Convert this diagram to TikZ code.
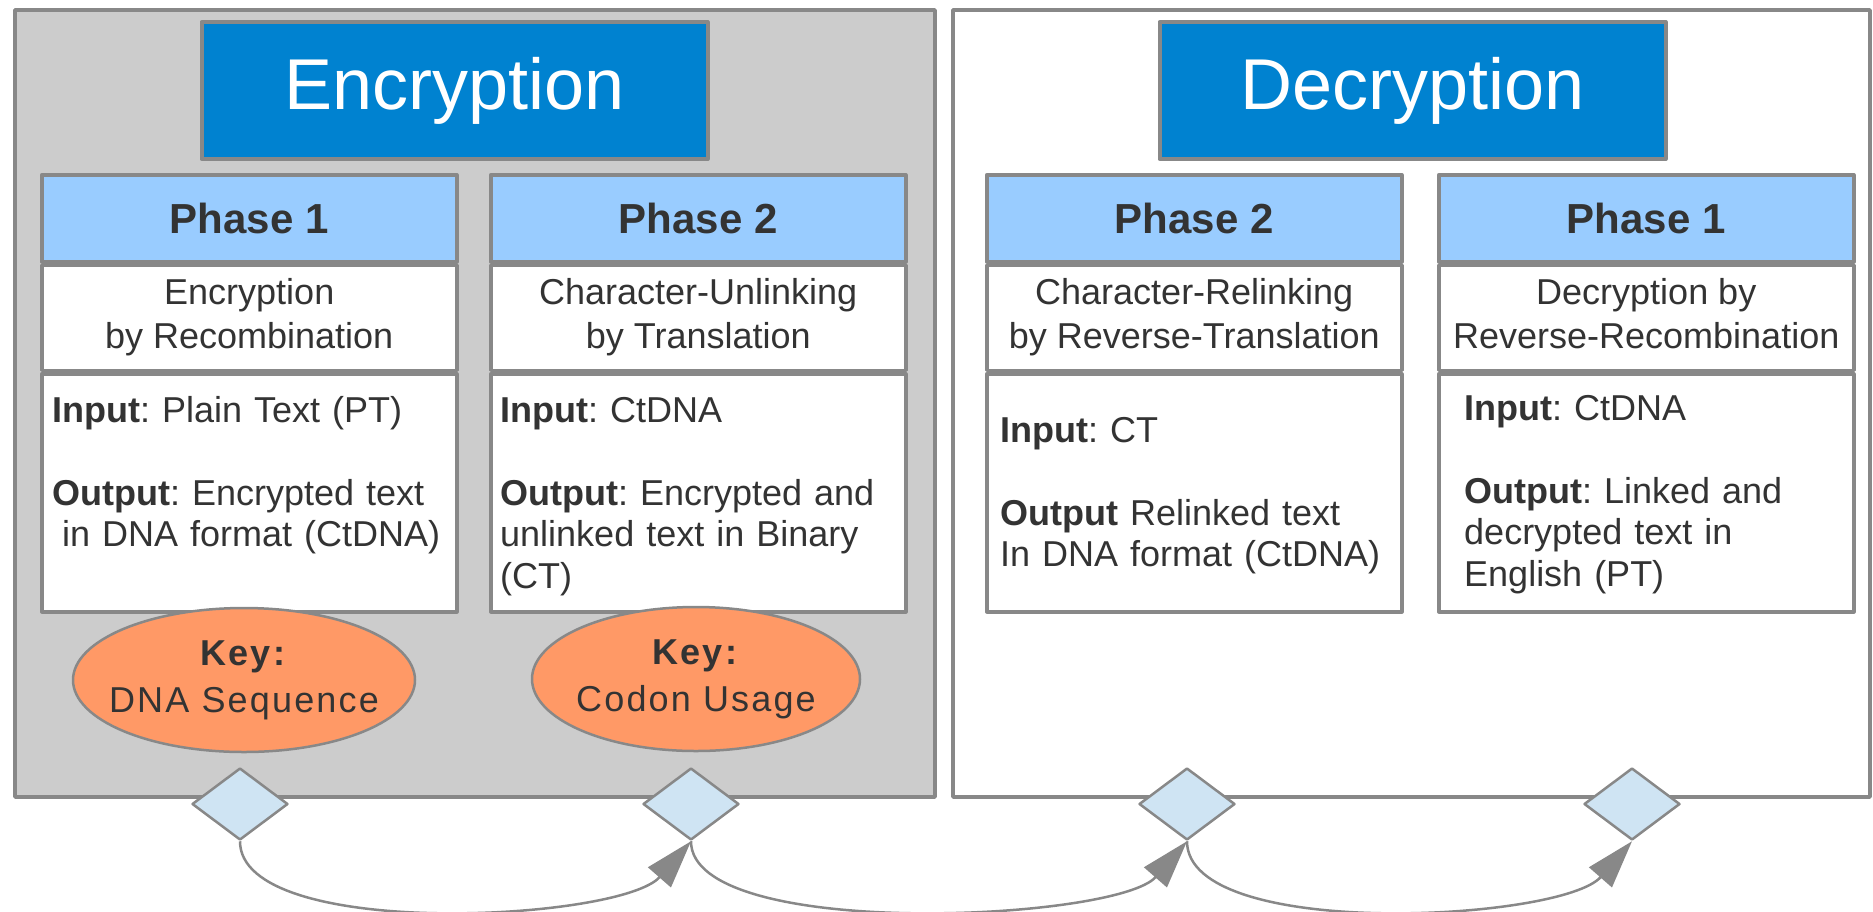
\documentclass[tikz,border=0pt]{standalone}
\usepackage{fontspec}
\setmainfont{Liberation Sans}
\frenchspacing
\usetikzlibrary{arrows.meta, bending, shapes.geometric}

\definecolor{linegray}{HTML}{888888}
\definecolor{panelgray}{HTML}{CCCCCC}
\definecolor{titleblue}{HTML}{0082D0}
\definecolor{headblue}{HTML}{99CCFF}
\definecolor{keyorange}{HTML}{FF9966}
\definecolor{joinblue}{HTML}{CFE4F3}
\definecolor{inkgray}{HTML}{333333}

\begin{document}
\begin{tikzpicture}
% Style
[
    x=1pt, y=1pt, line join=round,
    panel/.style={draw=linegray, line width=3.5pt, minimum width=920pt, minimum height=787pt, inner sep=0},
    title box/.style={draw=linegray, line width=4pt, fill=titleblue, text=white,
        minimum width=506pt, minimum height=137pt, font=\fontsize{72}{80}\selectfont},
    phasehead/.style={draw=linegray, line width=3.5pt, fill=headblue, text=inkgray,
        minimum width=415pt, minimum height=87pt, font=\fontsize{42}{48}\selectfont\bfseries},
    phasedesc/.style={draw=linegray, line width=3.5pt, fill=white, text=inkgray, inner sep=2pt,
        minimum width=415pt, minimum height=105pt, align=center, font=\fontsize{36}{44}\selectfont},
    phasebox/.style={draw=linegray, line width=3.5pt, fill=white, minimum width=415pt, minimum height=238pt},
    iotext/.style={text=inkgray, inner sep=0, text width=395pt, align=left, font=\fontsize{36}{41.5}\selectfont},
    keyoval/.style={ellipse, draw=linegray, line width=2.5pt, fill=keyorange, minimum height=144pt, inner sep=0},
    keytext/.style={text=inkgray, align=center, font=\fontsize{36}{47}\selectfont\addfontfeature{LetterSpace=6}},
    junction/.style={diamond, draw=linegray, line width=2.5pt, fill=joinblue, minimum width=96pt, minimum height=72pt, inner sep=0},
    flow/.style={draw=linegray, line width=2.5pt, -{Triangle[length=48pt, width=30pt, quick]}}
]

% Define: Params
\newcommand{\headtop}{-173} %top of the phase headers
\newcommand{\joiny}{-804}   %y of the junctions

%================================== Prepare ==================================
\newcommand{\drawphase}[6]{
    % Draw: header, description, io box and its text
    \node[phasehead, anchor=north west] (#1h) at (#2,\headtop) {#3};
    \node[phasedesc, anchor=north] (#1d) at (#1h.south) {\strut #4\strut};
    \node[phasebox, anchor=north] (#1b) at (#1d.south) {};
    \node[iotext, anchor=base west] (#1t) at ([shift={#5}]#1b.north west) {#6};
}

%=================================== Start ===================================
{
    \useasboundingbox (0,0) rectangle (1873,-911);

    % Draw: Panels
    \node[panel, fill=panelgray] (encpanel) at (475,-403.5) {};
    \node[panel, fill=white, minimum width=917pt] (decpanel) at (1411.5,-403.5) {};

    % Draw: Titles
    \node[title box] (enctitle) at (454.5,-90.5) {Encryption};
    \node[title box] (dectitle) at (1412.5,-90.5) {Decryption};

    % Draw: Phases
    \drawphase{ep1}{40}{Phase 1}{Encryption\\by Recombination}{(12,-50)}
        {\textbf{Input}: Plain Text (PT)\\[41.5pt]\textbf{Output}: Encrypted text\\\hspace*{10pt}in DNA format (CtDNA)}
    \drawphase{ep2}{489}{Phase 2}{Character-Unlinking\\by Translation}{(11,-50)}
        {\textbf{Input}: CtDNA\\[41.5pt]\textbf{Output}: Encrypted and\\unlinked text in Binary\\(CT)}
    \drawphase{dp2}{985}{Phase 2}{Character-Relinking\\by Reverse-Translation}{(15,-70)}
        {\textbf{Input}: CT\\[41.5pt]\textbf{Output} Relinked text\\In DNA format (CtDNA)}
    \drawphase{dp1}{1437}{Phase 1}{Decryption by\\Reverse-Recombination}{(27,-48)}
        {\textbf{Input}: CtDNA\\[41.5pt]\textbf{Output}: Linked and\\decrypted text in\\English (PT)}

    % Draw: Keys
    \node[keyoval, minimum width=342pt] (key1) at (244,-680) {};
    \node[keytext] (key1t) at (key1) {\textbf{Key:}\\DNA Sequence};
    \node[keyoval, minimum width=328pt] (key2) at (696,-679) {};
    \node[keytext] (key2t) at (key2) {\textbf{Key:}\\Codon Usage};

    % Draw: Junctions
    \foreach \x [count=\i] in {240, 691, 1187, 1632} {
        \node[junction] (j\i) at (\x,\joiny) {};
    }

    % Draw: Flow
    \foreach \a / \b in {1/2, 2/3, 3/4} {
        \draw[flow] (j\a.south) .. controls +(0,-100) and +(-70,-80) .. (j\b.south);
    }
}
%==================================== END ====================================

\end{tikzpicture}
\end{document}
